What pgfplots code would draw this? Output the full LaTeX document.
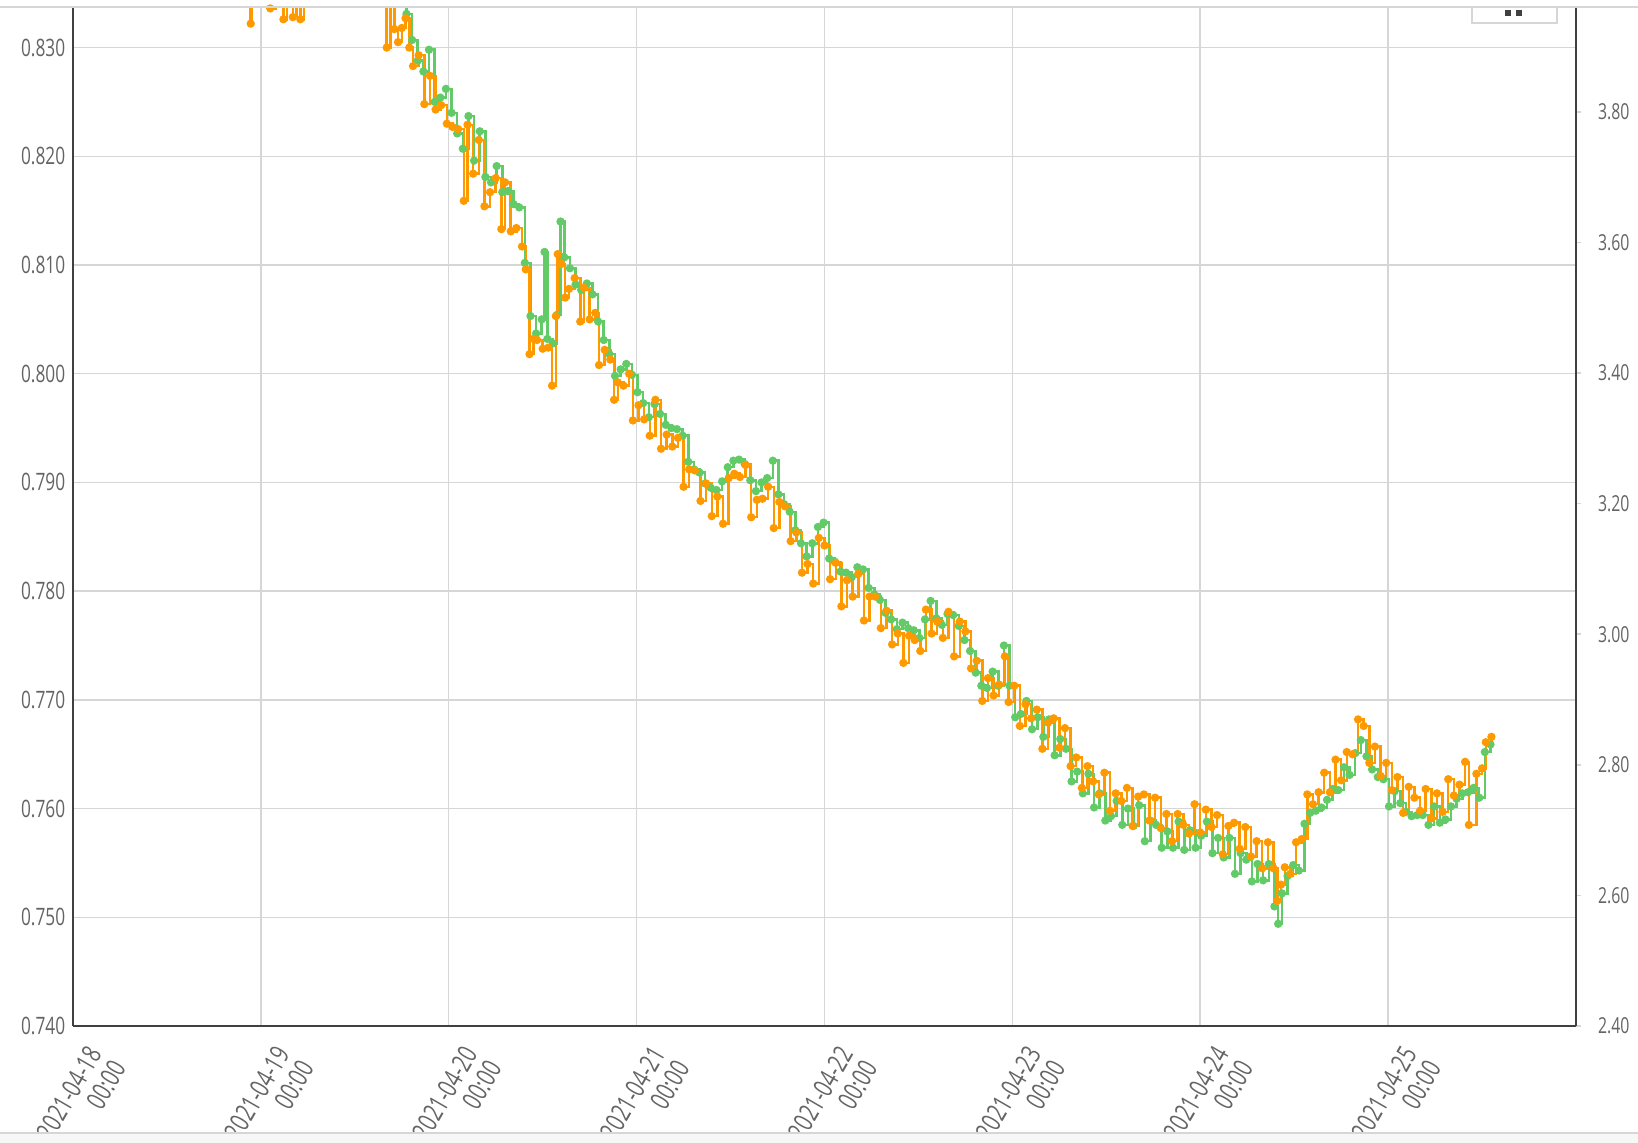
\documentclass[border=0pt]{standalone}
\usepackage{fontspec}
\setmainfont{Open Sans}[FakeStretch=0.72]
\usepackage{pgfplots}
\pgfplotsset{compat=1.18}

\definecolor{sorange}{RGB}{255,153,0}
\definecolor{sgreen}{RGB}{98,203,104}
\definecolor{gridgray}{RGB}{214,214,214}
\definecolor{axisgray}{RGB}{64,64,64}
\definecolor{labelgray}{RGB}{100,100,100}

\pgfplotsset{
  base/.style={
    at={(0,0)}, anchor=south west,
    scale only axis, width=450.9pt, height=305.4pt,
    xmin=0, xmax=8,
    /pgf/number format/assume math mode=true,
    tick label style={font=\fontsize{7.2}{8.4}\selectfont, text=labelgray},
  },
  series/.style={const plot, line width=0.75pt, mark=*, mark size=0.85pt,
    mark options={solid}},
}

\begin{document}
\begin{tikzpicture}[x=0.3pt,y=0.3pt]
\begin{axis}[base,
  ymin=0.74, ymax=0.83364,
  axis x line=bottom, axis y line=left,
  axis line style={-, draw=axisgray, line width=0.85pt},
  grid=major, grid style={draw=gridgray, line width=0.45pt},
  major tick length=0pt,
  ytick={0.74,0.75,0.76,0.77,0.78,0.79,0.80,0.81,0.82,0.83},
  yticklabel style={xshift=1.2pt, /pgf/number format/.cd, fixed, fixed zerofill, precision=3},
  xtick={0,1,2,3,4,5,6,7},
  xticklabels={2021-04-18\\00:00, 2021-04-19\\00:00, 2021-04-20\\00:00,
    2021-04-21\\00:00, 2021-04-22\\00:00, 2021-04-23\\00:00,
    2021-04-24\\00:00, 2021-04-25\\00:00},
  xticklabel style={rotate=60, anchor=north east, align=right,
    xshift=0.6pt, yshift=-2.5pt,
    font=\fontsize{8.1}{8.4}\selectfont},
]
% green series
\addplot[series, color=sgreen] coordinates {
(1.745,0.8345) (1.775,0.8331) (1.805,0.8307) (1.835,0.8288) (1.865,0.8278)
(1.895,0.8298) (1.925,0.8250) (1.955,0.8254) (1.985,0.8262) (2.015,0.8240)
(2.045,0.8221) (2.075,0.8207) (2.105,0.8237) (2.135,0.8196) (2.165,0.8223)
(2.195,0.8181) (2.225,0.8176) (2.255,0.8191) (2.285,0.8167) (2.315,0.8168)
(2.345,0.8156) (2.375,0.8153) (2.405,0.8102) (2.435,0.8053) (2.465,0.8037)
(2.495,0.8050) (2.510,0.8112) (2.525,0.8032) (2.555,0.8028) (2.575,0.8054)
(2.595,0.8140) (2.615,0.8107) (2.645,0.8097) (2.675,0.8082) (2.705,0.8077)
(2.735,0.8083) (2.765,0.8073) (2.795,0.8048) (2.825,0.8031) (2.855,0.8018)
(2.885,0.7998) (2.915,0.8004) (2.945,0.8009) (2.975,0.7999) (3.005,0.7983)
(3.035,0.7973) (3.065,0.7960) (3.095,0.7972) (3.125,0.7963) (3.155,0.7953)
(3.185,0.7950) (3.215,0.7949) (3.245,0.7943) (3.275,0.7919) (3.305,0.7912)
(3.335,0.7909) (3.365,0.7899) (3.395,0.7895) (3.425,0.7893) (3.455,0.7901)
(3.485,0.7914) (3.515,0.7920) (3.545,0.7921) (3.575,0.7917) (3.605,0.7902)
(3.635,0.7892) (3.665,0.7900) (3.695,0.7904) (3.725,0.7920) (3.755,0.7889)
(3.785,0.7880) (3.815,0.7873) (3.845,0.7856) (3.875,0.7844) (3.905,0.7832)
(3.935,0.7844) (3.965,0.7859) (3.995,0.7863) (4.025,0.7830) (4.055,0.7827)
(4.085,0.7818) (4.115,0.7817) (4.145,0.7813) (4.175,0.7822) (4.205,0.7820)
(4.235,0.7803) (4.265,0.7797) (4.295,0.7792) (4.325,0.7780) (4.355,0.7774)
(4.385,0.7765) (4.415,0.7771) (4.445,0.7766) (4.475,0.7764) (4.505,0.7757)
(4.535,0.7774) (4.565,0.7791) (4.595,0.7775) (4.625,0.7769) (4.655,0.7779)
(4.685,0.7778) (4.715,0.7768) (4.745,0.7755) (4.775,0.7745) (4.805,0.7725)
(4.835,0.7713) (4.865,0.7711) (4.895,0.7726) (4.925,0.7713) (4.955,0.7750)
(4.985,0.7713) (5.015,0.7684) (5.045,0.7687) (5.075,0.7699) (5.105,0.7673)
(5.135,0.7684) (5.165,0.7666) (5.195,0.7682) (5.225,0.7649) (5.255,0.7664)
(5.285,0.7655) (5.315,0.7625) (5.345,0.7634) (5.375,0.7614) (5.405,0.7632)
(5.435,0.7601) (5.465,0.7614) (5.495,0.7589) (5.525,0.7593) (5.555,0.7607)
(5.585,0.7585) (5.615,0.7600) (5.645,0.7584) (5.675,0.7603) (5.705,0.7570)
(5.735,0.7589) (5.765,0.7585) (5.795,0.7564) (5.825,0.7579) (5.855,0.7564)
(5.885,0.7588) (5.915,0.7562) (5.945,0.7580) (5.975,0.7564) (6.005,0.7575)
(6.035,0.7588) (6.065,0.7559) (6.095,0.7573) (6.125,0.7555) (6.155,0.7573)
(6.185,0.7540) (6.215,0.7559) (6.245,0.7553) (6.275,0.7533) (6.305,0.7549)
(6.335,0.7534) (6.365,0.7549) (6.395,0.7510) (6.415,0.7494) (6.435,0.7522)
(6.465,0.7538) (6.495,0.7548) (6.525,0.7543) (6.555,0.7586) (6.585,0.7596)
(6.615,0.7598) (6.645,0.7601) (6.675,0.7608) (6.705,0.7618) (6.735,0.7617)
(6.765,0.7638) (6.795,0.7631) (6.825,0.7651) (6.855,0.7663) (6.885,0.7648)
(6.915,0.7636) (6.945,0.7629) (6.975,0.7627) (7.005,0.7602) (7.035,0.7616)
(7.065,0.7605) (7.095,0.7597) (7.125,0.7593) (7.155,0.7594) (7.185,0.7594)
(7.215,0.7585) (7.245,0.7602) (7.275,0.7587) (7.305,0.7590) (7.335,0.7602)
(7.365,0.7609) (7.395,0.7614) (7.425,0.7615) (7.455,0.7619) (7.485,0.7610)
(7.515,0.7652) (7.545,0.7659)
};
% orange series
\addplot[series, color=sorange] coordinates {
(0.930,0.8380) (0.946,0.8322) (0.952,0.8380) (1.050,0.8336) (1.080,0.8345)
(1.110,0.8338) (1.120,0.8326) (1.140,0.8338) (1.170,0.8328) (1.190,0.8340)
(1.210,0.8326) (1.230,0.8342) (1.270,0.8360) (1.350,0.8375) (1.450,0.8380)
(1.550,0.8370) (1.620,0.8350) (1.640,0.8338) (1.660,0.8345) (1.670,0.8300)
(1.690,0.8352) (1.710,0.8317) (1.730,0.8305) (1.750,0.8318) (1.770,0.8327)
(1.790,0.8300) (1.810,0.8283) (1.840,0.8293) (1.870,0.8248) (1.900,0.8274)
(1.930,0.8243) (1.960,0.8247) (1.990,0.8230) (2.020,0.8227) (2.050,0.8225)
(2.080,0.8159) (2.100,0.8229) (2.130,0.8184) (2.160,0.8215) (2.190,0.8154)
(2.220,0.8167) (2.250,0.8180) (2.280,0.8133) (2.300,0.8176) (2.330,0.8131)
(2.360,0.8134) (2.390,0.8117) (2.410,0.8096) (2.430,0.8018) (2.450,0.8032)
(2.470,0.8031) (2.500,0.8023) (2.530,0.8024) (2.550,0.7989) (2.570,0.8053)
(2.580,0.8110) (2.600,0.8101) (2.620,0.8070) (2.640,0.8078) (2.670,0.8088)
(2.700,0.8048) (2.720,0.8079) (2.750,0.8050) (2.780,0.8056) (2.800,0.8008)
(2.830,0.8022) (2.860,0.8013) (2.880,0.7976) (2.900,0.7992) (2.930,0.7989)
(2.960,0.8000) (2.980,0.7957) (3.010,0.7971) (3.040,0.7958) (3.070,0.7943)
(3.100,0.7976) (3.130,0.7931) (3.160,0.7944) (3.190,0.7933) (3.220,0.7941)
(3.250,0.7896) (3.280,0.7912) (3.310,0.7911) (3.340,0.7883) (3.370,0.7899)
(3.400,0.7869) (3.430,0.7887) (3.460,0.7862) (3.490,0.7904) (3.520,0.7908)
(3.550,0.7905) (3.580,0.7916) (3.610,0.7868) (3.640,0.7884) (3.670,0.7885)
(3.700,0.7896) (3.730,0.7858) (3.760,0.7882) (3.790,0.7878) (3.820,0.7846)
(3.850,0.7854) (3.880,0.7817) (3.910,0.7825) (3.940,0.7807) (3.970,0.7849)
(4.000,0.7842) (4.030,0.7811) (4.060,0.7826) (4.090,0.7786) (4.120,0.7810)
(4.150,0.7795) (4.180,0.7816) (4.210,0.7773) (4.240,0.7795) (4.270,0.7795)
(4.300,0.7766) (4.330,0.7782) (4.360,0.7751) (4.390,0.7761) (4.420,0.7734)
(4.450,0.7759) (4.480,0.7755) (4.510,0.7745) (4.540,0.7783) (4.570,0.7761)
(4.600,0.7772) (4.630,0.7757) (4.660,0.7781) (4.690,0.7740) (4.720,0.7772)
(4.750,0.7763) (4.780,0.7729) (4.810,0.7736) (4.840,0.7699) (4.870,0.7720)
(4.900,0.7704) (4.930,0.7714) (4.960,0.7740) (4.980,0.7698) (5.010,0.7713)
(5.040,0.7676) (5.070,0.7696) (5.100,0.7683) (5.130,0.7691) (5.160,0.7655)
(5.190,0.7679) (5.220,0.7683) (5.250,0.7656) (5.280,0.7674) (5.310,0.7639)
(5.340,0.7647) (5.370,0.7619) (5.400,0.7639) (5.430,0.7625) (5.460,0.7613)
(5.490,0.7633) (5.520,0.7598) (5.550,0.7614) (5.580,0.7607) (5.610,0.7619)
(5.640,0.7584) (5.670,0.7611) (5.700,0.7613) (5.730,0.7589) (5.760,0.7610)
(5.790,0.7582) (5.820,0.7595) (5.850,0.7570) (5.880,0.7595) (5.910,0.7585)
(5.940,0.7577) (5.970,0.7604) (6.000,0.7578) (6.030,0.7599) (6.060,0.7583)
(6.090,0.7594) (6.120,0.7558) (6.150,0.7584) (6.180,0.7587) (6.210,0.7563)
(6.240,0.7583) (6.270,0.7556) (6.300,0.7570) (6.330,0.7545) (6.360,0.7569)
(6.390,0.7545) (6.410,0.7515) (6.430,0.7530) (6.450,0.7546) (6.480,0.7540)
(6.510,0.7569) (6.540,0.7572) (6.570,0.7613) (6.600,0.7604) (6.630,0.7615)
(6.660,0.7633) (6.690,0.7615) (6.720,0.7645) (6.750,0.7626) (6.780,0.7652)
(6.810,0.7650) (6.840,0.7682) (6.870,0.7676) (6.900,0.7642) (6.930,0.7657)
(6.960,0.7630) (6.990,0.7642) (7.020,0.7617) (7.050,0.7629) (7.080,0.7596)
(7.110,0.7620) (7.140,0.7610) (7.170,0.7598) (7.200,0.7618) (7.230,0.7591)
(7.260,0.7614) (7.290,0.7597) (7.320,0.7627) (7.350,0.7612) (7.380,0.7622)
(7.410,0.7643) (7.430,0.7585) (7.470,0.7632) (7.500,0.7637) (7.520,0.7661)
(7.550,0.7666)
};
\end{axis}
\begin{axis}[base,
  ymin=2.4, ymax=3.959,
  axis x line=none, axis y line*=right,
  axis line style={-, draw=axisgray, line width=0.85pt},
  ytick={2.4,2.6,2.8,3.0,3.2,3.4,3.6,3.8},
  yticklabel style={xshift=1.5pt, font=\fontsize{6.6}{8}\selectfont,
    /pgf/number format/.cd, fixed, fixed zerofill, precision=2},
  tick align=outside, major tick length=1.6pt,
  tick style={draw=gridgray, line width=0.45pt},
]
\end{axis}
% strip along the bottom edge of the window
\fill[white!97!black] (-73,-117) rectangle (1565,-107);
\draw[draw=gridgray, line width=0.6pt] (-73,-107) -- (1565,-107);
% thin line along the top edge and the small button
\draw[draw=gridgray, line width=0.45pt] (-73,1019) -- (1565,1019);
\filldraw[fill=white, draw=gridgray, line width=0.4pt] (1399,1019) rectangle (1484,1003);
\fill[axisgray] (1432,1016) rectangle (1438,1010);
\fill[axisgray] (1443,1016) rectangle (1449,1010);
\pgfresetboundingbox
\path (-73,-117) rectangle (1565,1026);
\end{tikzpicture}
\end{document}
